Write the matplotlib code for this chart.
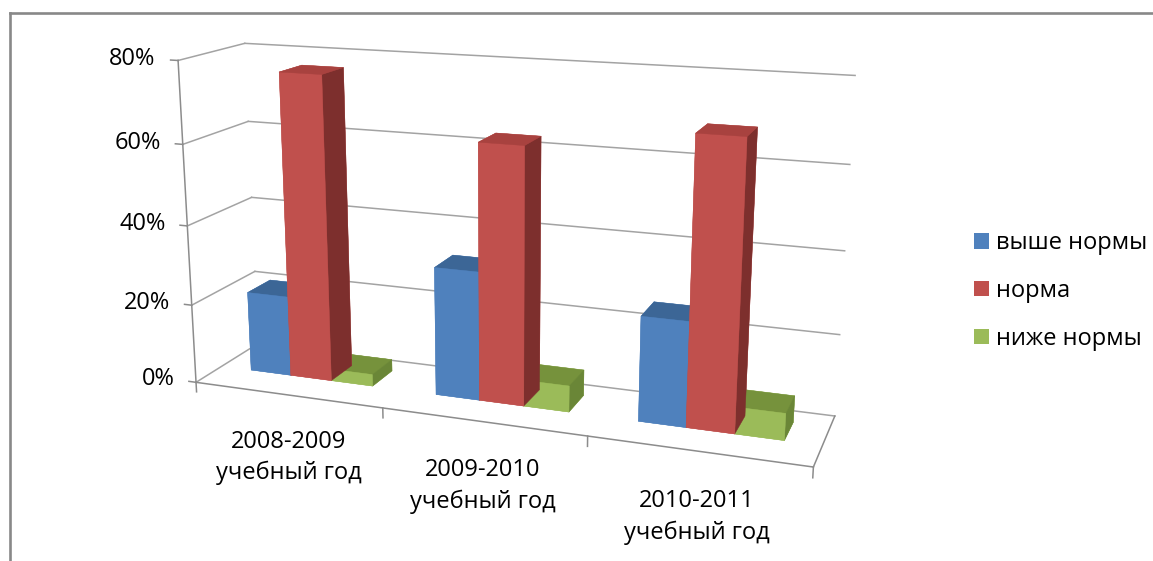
import numpy as np
import matplotlib.pyplot as plt
from matplotlib.patches import Patch
from matplotlib.lines import Line2D
from mpl_toolkits.mplot3d import proj3d

# data (percent of pupils)
years = ['2008-2009\nучебный год', '2009-2010\nучебный год', '2010-2011\nучебный год']
series = ['выше нормы', 'норма', 'ниже нормы']
above = [20.5, 32, 25.5]
normal = [76.5, 63, 68.5]
below = [3, 6.5, 6.5]
zticks = [0, 20, 40, 60, 80]

front = ['#4F81BD', '#C0504D', '#9BBB59']
top = ['#3C6696', '#A8423F', '#76923C']
side = ['#2F5178', '#7D2F2D', '#6A8637']
grid_c = '#A3A3A3'
axis_c = '#8C8C8C'

plt.rcParams['font.family'] = ['Open Sans', 'DejaVu Sans']

W, H = 1153, 561
fig = plt.figure(figsize=(W / 100, H / 100), dpi=100)

# square 3d axes placed so the box centre lands where it is in the picture
S = 725
cx, cy = 506, H - 238
ax = fig.add_axes([(cx - 0.5135 * S) / W, (cy - 0.5135 * S) / H, S / W, S / H],
                  projection='3d', computed_zorder=False)
ax.set_xlim(0, 3)
ax.set_ylim(0, 1)
ax.set_zlim(0, 80)
ax.set_box_aspect((3, 0.62, 1.58))
ax.set_proj_type('persp', focal_length=0.39)
ax.view_init(elev=15, azim=-70)
ax.set_axis_off()


def at(x, y, z):
    # 3d point -> 2d data coords of the axes, so labels are plain 2d texts
    px, py, _ = proj3d.proj_transform(x, y, z, ax.get_proj())
    return px, py


# walls: gridlines on back wall and left wall
for v in zticks:
    ax.plot([0, 3], [1, 1], [v, v], color=grid_c, lw=1.1, zorder=1)
    ax.plot([0, 0], [0, 1], [v, v], color=grid_c, lw=1.1, zorder=1)
ax.plot([0, 0], [0, 0], [0, 80], color=axis_c, lw=1.1, zorder=1)

# bars, one colour per face: -z, +z, -y, +y, -x, +x
w = 1 / 4.5
values = [above, normal, below]
xs, hs, fcs = [], [], []
for i in range(len(years)):
    for j, vals in enumerate(values):
        xs.append(i + 0.75 * w + j * w)
        hs.append(vals[i])
        fcs += [front[j], top[j], front[j], front[j], front[j], side[j]]
ax.bar3d(xs, 0.40, 0, w, 0.37, hs, color=fcs, edgecolor=fcs, linewidth=0.3,
         shade=False, zorder=2)

# floor front and right edges, ticks
ax.plot([0, 3], [0, 0], [0, 0], color=axis_c, lw=1.1, zorder=3)
ax.plot([3, 3], [0, 1], [0, 0], color=axis_c, lw=1.1, zorder=3)
for v in zticks:
    ax.plot([-0.04, 0], [0, 0], [v, v], color=axis_c, lw=1.1, zorder=3)
    ax.text2D(*at(-0.12, 0, v), f'{v}%', transform=ax.transData,
              ha='right', va='center', fontsize=17)
for i in range(len(years) + 1):
    ax.plot([i, i], [0, 0], [0, -2.5], color=axis_c, lw=1.1, zorder=3)
for i, lab in enumerate(years):
    ax.text2D(*at(i + 0.5, 0, -9), lab, transform=ax.transData,
              ha='center', va='top', fontsize=17, linespacing=1.4)

handles = [Patch(facecolor=c, edgecolor='none') for c in front]
fig.legend(handles, series, loc='center left', bbox_to_anchor=(974 / W, 1 - 291 / H),
           frameon=False, fontsize=17, handlelength=0.62, handleheight=0.62,
           handletextpad=0.3, labelspacing=1.0, borderpad=0, borderaxespad=0)

# chart area border (only top and left visible)
fig.add_artist(Line2D([10 / W, 1], [1 - 13 / H, 1 - 13 / H], transform=fig.transFigure,
                      color='#888888', lw=1.9))
fig.add_artist(Line2D([10 / W, 10 / W], [0, 1 - 13 / H], transform=fig.transFigure,
                      color='#888888', lw=1.9))

fig.savefig('out.png', dpi=100)
